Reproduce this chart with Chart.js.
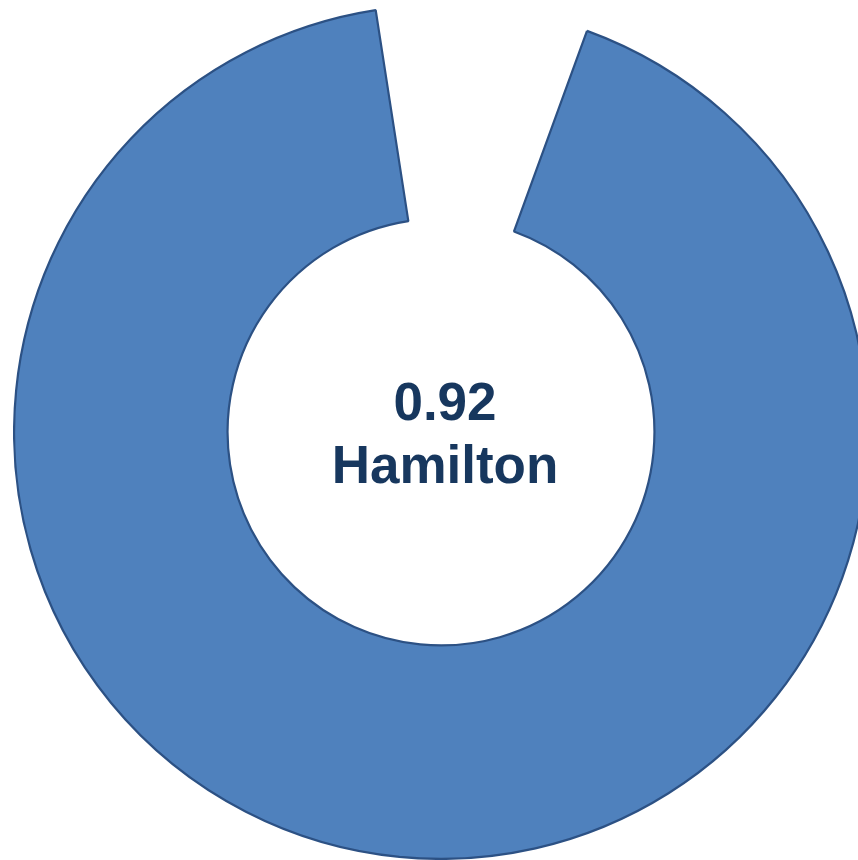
<!DOCTYPE html>
<html>
<head>
<meta charset="utf-8">
<script src="https://cdn.jsdelivr.net/npm/chart.js@4"></script>
<style>
  html, body { margin: 0; padding: 0; background: #fff; overflow: hidden; width: 858px; height: 860px; }
  #wrap { position: absolute; left: 13px; top: 4px; width: 856px; height: 856px; }
  #label {
    position: absolute; left: 245px; top: 370px; width: 400px;
    text-align: center; font-family: "Liberation Sans", Arial, sans-serif;
    font-weight: bold; font-size: 53px; line-height: 63px; color: #17375E;
  }
</style>
</head>
<body>
<div id="wrap"><canvas id="donut"></canvas></div>
<div id="label"><div id="score"></div><div id="team"></div></div>
<script>
// chart values
const team = "Hamilton";
const score = 0.92;
const sliceValues = [score, 1 - score];

document.getElementById("score").textContent = score.toFixed(2);
document.getElementById("team").textContent = team;

const ctx = document.getElementById("donut").getContext("2d");
new Chart(ctx, {
    type: "doughnut",
    data: {
        labels: [team, ""],
        datasets: [{
            data: sliceValues,
            backgroundColor: ["#4F81BD", "rgba(0,0,0,0)"],
            borderColor: ["#2C5184", "rgba(0,0,0,0)"],
            borderWidth: [2.2, 0]
        }]
    },
    options: {
        responsive: true,
        maintainAspectRatio: false,
        animation: false,
        cutout: "50%",
        rotation: 20,
        plugins: {
            legend: { display: false },
            tooltip: { enabled: false }
        }
    }
});
</script>
</body>
</html>
